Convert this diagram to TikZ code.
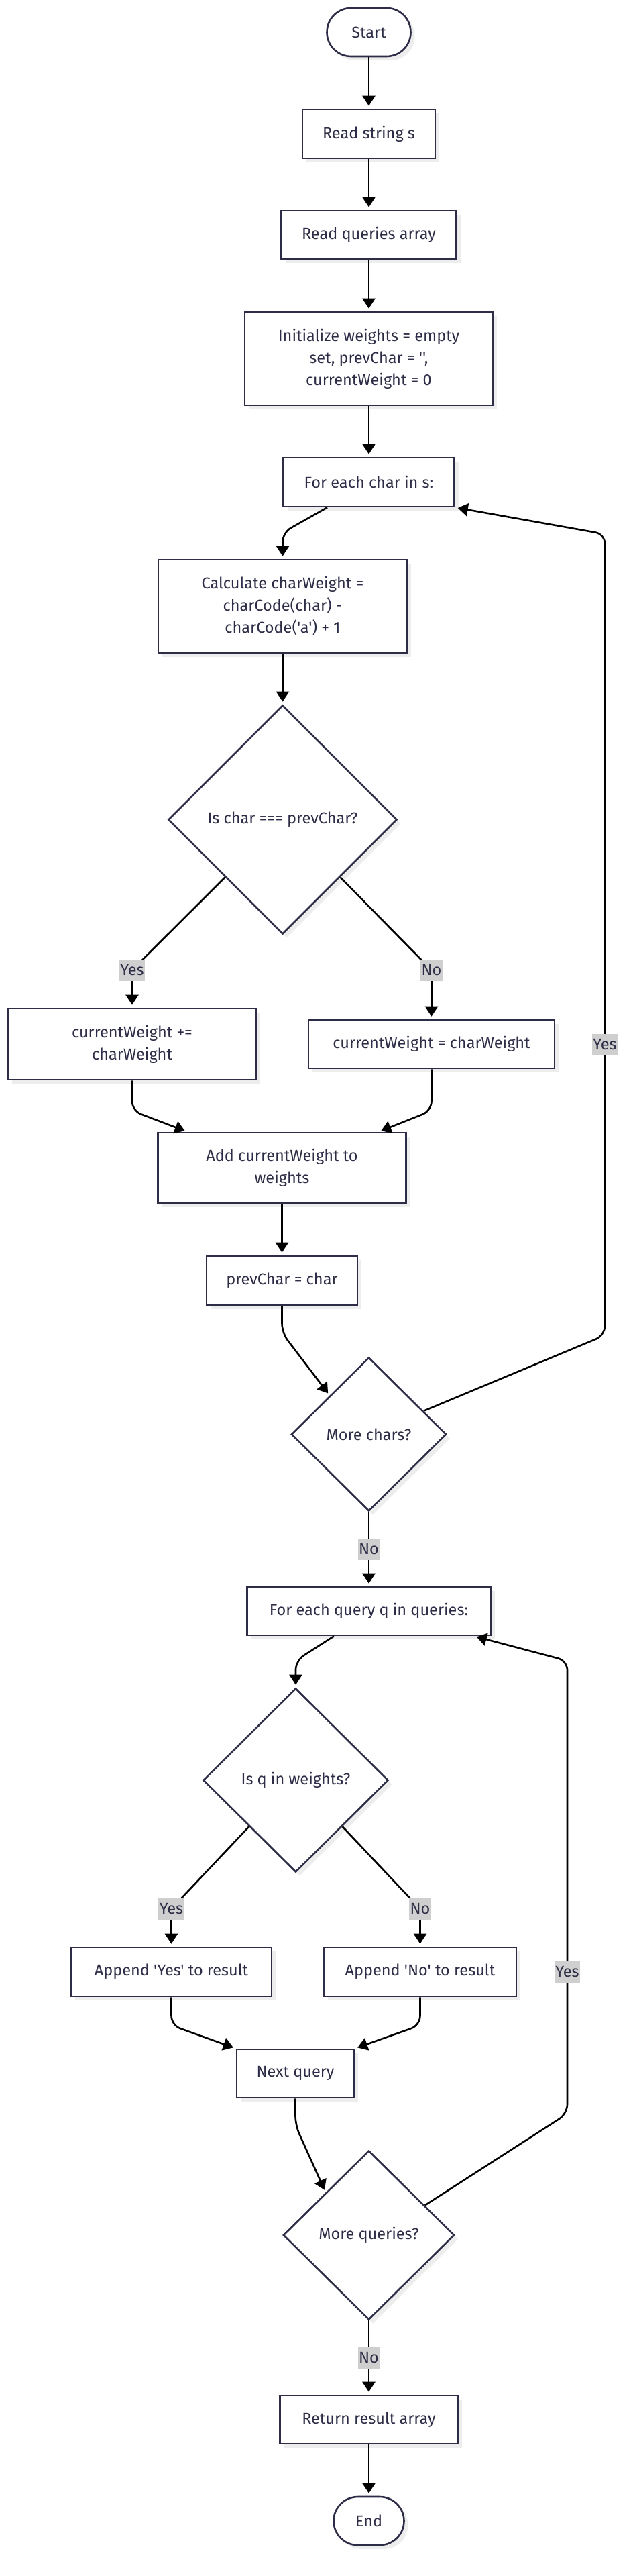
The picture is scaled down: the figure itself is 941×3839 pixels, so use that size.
\documentclass[tikz,border=0pt]{standalone}
\usepackage{fontspec}
\setmainfont{Fira Sans}[Ligatures=TeXOff]
\usepackage{xcolor}
\definecolor{flowInk}{HTML}{2D2D47}
\definecolor{flowTag}{HTML}{CFCFCF}
\usepackage{tikz}
\usetikzlibrary{shapes.geometric,arrows.meta,calc,shadows}
\newcommand{\flowfont}{\fontsize{23.5}{33}\selectfont}

\tikzset{
  procbox/.style={draw=flowInk, line width=2.6pt, fill=white, text=flowInk,
    font=\flowfont, align=center, inner sep=0pt, sharp corners,
    drop shadow={shadow xshift=6pt, shadow yshift=-6pt, fill=black, opacity=0.07}},
  termbox/.style={procbox, rounded corners=36pt},
  decbox/.style={procbox, diamond},
  flowarr/.style={-{Triangle[length=15pt,width=19pt]}, line width=2.6pt,
    black, rounded corners=14pt, shorten >=4pt},
  edgetag/.style={fill=flowTag, text=flowInk, font=\flowfont, sharp corners,
    inner xsep=1.5pt, inner ysep=0pt, minimum height=32pt},
}

\begin{document}
\begin{tikzpicture}[x=1pt, y=-1pt]
  \useasboundingbox (0,0) rectangle (941,3839);
  % ------- reading input and set-up -------
  \node[termbox, minimum width=125pt, minimum height=72pt] (start) at (550,48) {Start};
  \node[procbox, minimum width=198pt, minimum height=73pt] (reads) at (550,199.5) {Read string s};
  \node[procbox, minimum width=261pt, minimum height=72pt] (readq) at (550,350) {Read queries array};
  \node[procbox, minimum width=370pt, minimum height=139pt] (init) at (550,534.5)
    {Initialize weights = empty\\ set, prevChar = '',\\ currentWeight = 0};
  % ------- loop over the characters of s -------
  \node[procbox, minimum width=255pt, minimum height=73pt] (foreach) at (550,718.5) {For each char in s:};
  \node[procbox, minimum width=371pt, minimum height=139pt] (calc) at (421.5,903.5)
    {Calculate charWeight =\\ charCode(char) -\\ charCode('a') + 1};
  \node[decbox, minimum width=341pt, minimum height=341pt] (ischar) at (421.5,1221.5) {Is char === prevChar?};
  \node[procbox, minimum width=370pt, minimum height=106pt] (cwplus) at (197,1556) {currentWeight +=\\ charWeight};
  \node[procbox, minimum width=367pt, minimum height=72pt] (cwset) at (643.5,1556) {currentWeight = charWeight};
  \node[procbox, minimum width=370pt, minimum height=105pt] (add) at (420.5,1740.5) {Add currentWeight to\\ weights};
  \node[procbox, minimum width=225pt, minimum height=73pt] (prevc) at (420.5,1908.5) {prevChar = char};
  \node[decbox, minimum width=231pt, minimum height=229pt] (morechars) at (550,2137.5) {More chars?};
  % ------- loop over the queries -------
  \node[procbox, minimum width=363pt, minimum height=72pt] (foreachq) at (550,2401) {For each query q in queries:};
  \node[decbox, minimum width=276pt, minimum height=274pt] (isq) at (441,2653) {Is q in weights?};
  \node[procbox, minimum width=299pt, minimum height=73pt] (appyes) at (255.5,2938.5) {Append 'Yes' to result};
  \node[procbox, minimum width=287pt, minimum height=73pt] (appno) at (626.5,2938.5) {Append 'No' to result};
  \node[procbox, minimum width=175pt, minimum height=72pt] (nextq) at (440.5,3090) {Next query};
  \node[decbox, minimum width=255pt, minimum height=252pt] (moreq) at (550,3331) {More queries?};
  \node[procbox, minimum width=265pt, minimum height=72pt] (ret) at (550,3606) {Return result array};
  \node[termbox, minimum width=105pt, minimum height=72pt] (end) at (550,3757) {End};
  % loop corners
  \coordinate (charloopLo) at (902,1990);
  \coordinate (charloopHi) at (902,796);
  \coordinate (qloopLo) at (846,3150);
  \coordinate (qloopHi) at (846,2475);

  % ------- connectors -------
  \draw[flowarr] (start) -- (reads);
  \draw[flowarr] (reads) -- (readq);
  \draw[flowarr] (readq) -- (init);
  \draw[flowarr] (init) -- (foreach);
  \draw[flowarr] ([xshift=-62pt]foreach.south) -- ([yshift=39pt]calc.north) -- (calc.north);
  \draw[flowarr] (calc) -- (ischar);
  \draw[flowarr] (ischar.south west) -- ([yshift=56pt]cwplus.north) node[edgetag] {Yes} -- (cwplus.north);
  \draw[flowarr] (ischar.south east) -- ([yshift=73pt]cwset.north) node[edgetag] {No} -- (cwset.north);
  \draw[flowarr] (cwplus.south) -- ++(0,45) -- ([xshift=-141pt]add.north);
  \draw[flowarr] (cwset.south) -- ++(0,62) -- ([xshift=144pt]add.north);
  \draw[flowarr] (add) -- (prevc);
  \draw[flowarr] (prevc.south) -- ++(0,40) -- (morechars.north west);
  \draw[flowarr] ($(morechars.east)!0.3!(morechars.north)$) -- (charloopLo)
    -- node[edgetag, pos=0.363] {Yes} (charloopHi) -- (foreach.south east);
  \draw[flowarr] (morechars) -- node[edgetag] {No} (foreachq);
  \draw[flowarr] ([xshift=-52pt]foreachq.south) -- ([yshift=40pt]isq.north) -- (isq.north);
  \draw[flowarr] (isq.south west) -- ([yshift=56pt]appyes.north) node[edgetag] {Yes} -- (appyes.north);
  \draw[flowarr] (isq.south east) -- ([yshift=56pt]appno.north) node[edgetag] {No} -- (appno.north);
  \draw[flowarr] (appyes.south) -- ++(0,42) -- (nextq.north west);
  \draw[flowarr] (appno.south) -- ++(0,42) -- (nextq.north east);
  \draw[flowarr] (nextq.south) -- ++(0,40) -- (moreq.north west);
  \draw[flowarr] ($(moreq.east)!0.35!(moreq.north)$) -- (qloopLo)
    -- node[edgetag, pos=0.313] {Yes} (qloopHi) -- ([xshift=-26pt]foreachq.south east);
  \draw[flowarr] (moreq) -- node[edgetag] {No} (ret);
  \draw[flowarr] (ret) -- (end);
\end{tikzpicture}
\end{document}
